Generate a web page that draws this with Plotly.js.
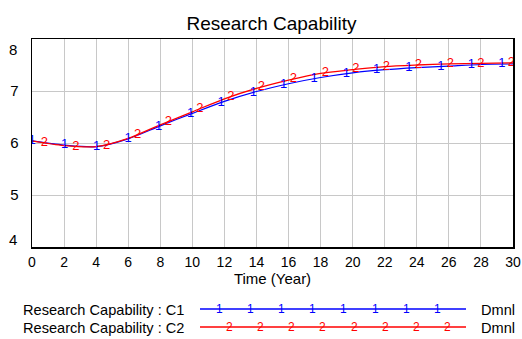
<!DOCTYPE html>
<html>
<head>
<meta charset="utf-8">
<script src="https://cdn.plot.ly/plotly-3.0.1.min.js"></script>
<style>html,body{margin:0;padding:0;background:#fff;}#chart{width:522px;height:339px;}</style>
</head>
<body>
<div id="chart"></div>
<script>
// ---- data ----
const time = [0, 2, 4, 6, 8, 10, 12, 14, 16, 18, 20, 22, 24, 26, 28, 30];
const c1Values = [6.04, 5.96, 5.93, 6.08, 6.33, 6.57, 6.80, 6.99, 7.14, 7.26, 7.35, 7.41, 7.45, 7.48, 7.51, 7.52];
const c2Values = [6.04, 5.95, 5.93, 6.09, 6.35, 6.60, 6.85, 7.05, 7.21, 7.34, 7.41, 7.47, 7.50, 7.52, 7.53, 7.54];

// series marker labels ("1" / "2") along the curves
const c1MarkTime = [0, 2.04, 4.03, 6.0, 7.9, 9.9, 11.8, 13.8, 15.7, 17.6, 19.6, 21.5, 23.5, 25.5, 27.4, 29.3];
const c1MarkValue = [6.04, 5.96, 5.93, 6.08, 6.32, 6.56, 6.78, 6.97, 7.12, 7.24, 7.33, 7.40, 7.44, 7.47, 7.50, 7.52];
const c2MarkTime = [0.77, 2.74, 4.66, 6.59, 8.5, 10.47, 12.4, 14.3, 16.3, 18.3, 20.2, 22.1, 24.1, 26.1, 28.0, 29.9];
const c2MarkValue = [6.01, 5.93, 5.95, 6.15, 6.41, 6.66, 6.89, 7.08, 7.23, 7.35, 7.42, 7.47, 7.50, 7.52, 7.53, 7.54];

const seriesNames = ["Research Capability : C1", "Research Capability : C2"];
const seriesMarks = ["1", "2"];
const seriesUnits = ["Dmnl", "Dmnl"];
const xTicks = [0, 2, 4, 6, 8, 10, 12, 14, 16, 18, 20, 22, 24, 26, 28, 30];
const yTicks = [4, 5, 6, 7, 8];

const BLUE = "rgb(0,0,255)";
const RED = "rgb(255,0,0)";
const FONT = "Liberation Sans";

const traces = [
  {x: time, y: c1Values, mode: "lines", line: {color: BLUE, width: 1.2, shape: "spline", smoothing: 0.8}, hoverinfo: "skip"},
  {x: time, y: c2Values, mode: "lines", line: {color: RED, width: 1.3, shape: "spline", smoothing: 0.8}, hoverinfo: "skip"},
  {x: c1MarkTime, y: c1MarkValue, mode: "text", text: c1MarkTime.map(() => seriesMarks[0]),
   textposition: "middle center", textfont: {family: FONT, size: 13, color: BLUE}, hoverinfo: "skip"},
  {x: c2MarkTime, y: c2MarkValue, mode: "text", text: c2MarkTime.map(() => seriesMarks[1]),
   textposition: "middle center", textfont: {family: FONT, size: 13, color: RED}, hoverinfo: "skip"}
];

// Legend (drawn in paper coords; plot area spans 32..513 px horizontally, 39..334 vertically)
const W = 522, H = 339, L = 32, R = 9, T = 39, B = 5;
const pw = W - L - R, ph = H - T - B;
const px = v => (v - L) / pw;
const py = v => (H - B - v) / ph;
const legendRows = [309, 327];
const legendColors = [BLUE, RED];
const shapes = [];
const annotations = [];
legendRows.forEach((rowY, i) => {
  shapes.push({type: "line", xref: "paper", yref: "paper", x0: px(200), x1: px(466), y0: py(rowY), y1: py(rowY),
               line: {color: legendColors[i], width: 1.3}});
  annotations.push({xref: "paper", yref: "paper", x: px(186), y: py(rowY + 1), xanchor: "right", yanchor: "middle",
                    text: seriesNames[i], showarrow: false, font: {family: FONT, size: 14.6, color: "#000"}});
  annotations.push({xref: "paper", yref: "paper", x: px(479), y: py(rowY + 1), xanchor: "left", yanchor: "middle",
                    text: seriesUnits[i], showarrow: false, font: {family: FONT, size: 14.6, color: "#000"}});
  const start = i === 0 ? 219 : 229.3;
  for (let k = 0; k < 8; k++) {
    annotations.push({xref: "paper", yref: "paper", x: px(start + k * 31.2), y: py(rowY), xanchor: "center", yanchor: "middle",
                      text: seriesMarks[i], showarrow: false, font: {family: FONT, size: 12, color: legendColors[i]}});
  }
});
// end y tick labels sit inside the frame, as in the reference
annotations.push({xref: "paper", yref: "y", x: -0.027, xanchor: "right", y: yTicks[yTicks.length - 1], yanchor: "middle", yshift: -10,
                  text: String(yTicks[yTicks.length - 1]), showarrow: false, font: {family: FONT, size: 15, color: "#000"}});
annotations.push({xref: "paper", yref: "y", x: -0.027, xanchor: "right", y: yTicks[0], yanchor: "middle", yshift: 8,
                  text: String(yTicks[0]), showarrow: false, font: {family: FONT, size: 15, color: "#000"}});

const layout = {
  width: W, height: H,
  margin: {l: L, r: R, t: T, b: B},
  paper_bgcolor: "#fff", plot_bgcolor: "#fff",
  showlegend: false,
  title: {text: "Research Capability", font: {family: FONT, size: 19, color: "#000"}, x: 0.52, xanchor: "center", xref: "container",
          y: 1 - 23 / H, yref: "container", yanchor: "middle"},
  xaxis: {
    range: [0, 30], tickvals: xTicks, ticktext: xTicks.map(String), showgrid: true, gridcolor: "#c8c8c8", gridwidth: 1,
    zeroline: false, showline: true, linecolor: "#000", linewidth: 1.5, mirror: true, ticks: "",
    tickfont: {family: FONT, size: 14, color: "#000"}, ticklabelstandoff: 2,
    title: {text: "Time (Year)", font: {family: FONT, size: 15, color: "#000"}, standoff: 2},
    anchor: "y"
  },
  yaxis: {
    range: [4, 8], tickvals: yTicks, ticktext: yTicks.map((v, i) => (i === 0 || i === yTicks.length - 1) ? "" : String(v)),
    showgrid: true, gridcolor: "#c8c8c8", gridwidth: 1,
    zeroline: false, showline: true, linecolor: "#000", linewidth: 1.5, mirror: true, ticks: "",
    tickfont: {family: FONT, size: 15, color: "#000"}, ticklabelstandoff: 9,
    domain: [(H - B - 247) / ph, 1]
  },
  shapes: shapes,
  annotations: annotations
};

Plotly.newPlot("chart", traces, layout, {staticPlot: true, displayModeBar: false});
</script>
</body>
</html>
